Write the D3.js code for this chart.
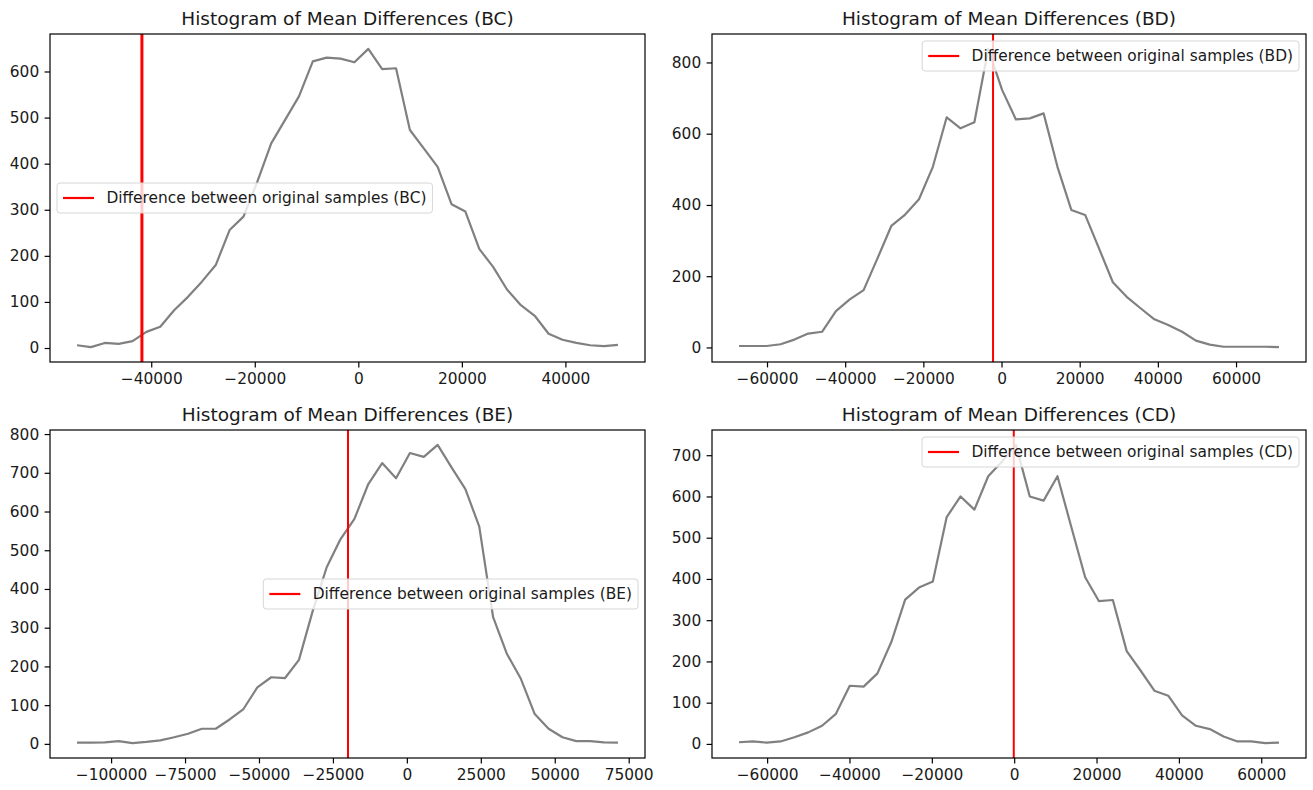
<!DOCTYPE html>
<html>
<head>
<meta charset="utf-8">
<script src="https://cdn.jsdelivr.net/npm/d3@7"></script>
<style>
  body { margin: 0; background: #fff; }
  svg text { font-family: "DejaVu Sans", sans-serif; fill: #1a1a1a; }
</style>
</head>
<body>
<svg id="chart" width="1313" height="790"></svg>
<script>
// Bootstrap distributions of mean differences, 40 bins each.
// Bin range: [first bin position, last bin position]; counts per bin.
const binRangeBC = [-54330, 50150];
const countsBC = [6, 2, 11, 9, 15, 35, 46, 82, 111, 144, 180, 256, 285, 361, 444, 495, 546, 622, 630, 628,
                  620, 649, 605, 607, 473, 433, 393, 312, 296, 215, 176, 127, 93, 70, 31, 18, 11, 6, 4, 7];
const observedBC = -41800;

const binRangeBD = [-67168, 70995];
const countsBD = [4, 4, 4, 9, 22, 39, 44, 102, 135, 161, 250, 341, 373, 416, 507, 646, 615, 632, 838, 723,
                  640, 643, 657, 507, 386, 372, 278, 183, 142, 110, 79, 63, 44, 19, 8, 2, 2, 2, 2, 1];
const observedBD = -2170;

const binRangeBE = [-111513, 71370];
const countsBE = [3, 3, 4, 7, 2, 5, 9, 17, 26, 39, 39, 63, 90, 146, 172, 170, 217, 344, 456, 529,
                  581, 671, 725, 686, 751, 741, 772, 714, 658, 561, 327, 232, 168, 77, 39, 17, 7, 7, 4, 3];
const observedBE = -19900;

const binRangeCD = [-66828, 64310];
const countsCD = [4, 6, 3, 6, 16, 28, 44, 73, 141, 139, 171, 247, 350, 379, 394, 550, 600, 568, 649, 685,
                  725, 600, 590, 649, 526, 404, 346, 349, 225, 178, 129, 117, 69, 44, 36, 18, 6, 6, 2, 3];
const observedCD = -100;

const xTicksBC = [-40000, -20000, 0, 20000, 40000];
const yTicksBC = [0, 100, 200, 300, 400, 500, 600];
const xTicksBD = [-60000, -40000, -20000, 0, 20000, 40000, 60000];
const yTicksBD = [0, 200, 400, 600, 800];
const xTicksBE = [-100000, -75000, -50000, -25000, 0, 25000, 50000, 75000];
const yTicksBE = [0, 100, 200, 300, 400, 500, 600, 700, 800];
const xTicksCD = [-60000, -40000, -20000, 0, 20000, 40000, 60000];
const yTicksCD = [0, 100, 200, 300, 400, 500, 600, 700];

const pairs = ["BC", "BD", "BE", "CD"];
const panelData = {
  BC: { range: binRangeBC, counts: countsBC, observed: observedBC, xTicks: xTicksBC, yTicks: yTicksBC },
  BD: { range: binRangeBD, counts: countsBD, observed: observedBD, xTicks: xTicksBD, yTicks: yTicksBD },
  BE: { range: binRangeBE, counts: countsBE, observed: observedBE, xTicks: xTicksBE, yTicks: yTicksBE },
  CD: { range: binRangeCD, counts: countsCD, observed: observedCD, xTicks: xTicksCD, yTicks: yTicksCD }
};

// Layout of the 2x2 grid: axes boxes [left, top, right, bottom] and legend placement
const layout = {
  BC: { box: [50, 34, 645, 362], legend: "center left", redWidth: 3 },
  BD: { box: [712, 34, 1306, 362], legend: "upper right", redWidth: 2 },
  BE: { box: [50, 430, 645, 758], legend: "center right", redWidth: 2 },
  CD: { box: [712, 430, 1306, 758], legend: "upper right", redWidth: 2 }
};

const svg = d3.select("#chart");
const fmt = d3.format("d");
const TICK_FONT = 15.4, TITLE_FONT = 18.5, LEGEND_FONT = 15.4;

// Autoscale with 5% margins on each side
function padded(lo, hi) {
  const m = (hi - lo) * 0.05;
  return [lo - m, hi + m];
}

pairs.forEach(key => {
  const d = panelData[key];
  const L = layout[key];
  const [x0, y0, x1, y1] = L.box;

  const n = d.counts.length;
  const binScale = d3.scaleLinear().domain([0, n - 1]).range(d.range);
  const points = d.counts.map((c, i) => ({ x: binScale(i), y: c }));

  const x = d3.scaleLinear().domain(padded(d.range[0], d.range[1])).range([x0, x1]);
  const yExt = d3.extent(d.counts);
  const y = d3.scaleLinear().domain(padded(yExt[0], yExt[1])).range([y1, y0]);

  const g = svg.append("g");

  const clipId = "clip-" + key;
  g.append("clipPath").attr("id", clipId)
    .append("rect").attr("x", x0).attr("y", y0).attr("width", x1 - x0).attr("height", y1 - y0);

  const plot = g.append("g").attr("clip-path", `url(#${clipId})`);

  // histogram outline
  plot.append("path")
    .datum(points)
    .attr("fill", "none")
    .attr("stroke", "#808080")
    .attr("stroke-width", 2.2)
    .attr("stroke-linejoin", "round")
    .attr("d", d3.line().x(p => x(p.x)).y(p => y(p.y)));

  // observed difference
  plot.append("line")
    .attr("x1", x(d.observed)).attr("x2", x(d.observed))
    .attr("y1", y0).attr("y2", y1)
    .attr("stroke", "#ff0000")
    .attr("stroke-width", L.redWidth);

  // axes frame
  g.append("rect")
    .attr("x", x0).attr("y", y0).attr("width", x1 - x0).attr("height", y1 - y0)
    .attr("fill", "none").attr("stroke", "#000").attr("stroke-width", 1.2);

  const xAxis = g.append("g").attr("transform", `translate(0,${y1})`)
    .call(d3.axisBottom(x).tickValues(d.xTicks).tickFormat(fmt).tickSize(5.4).tickPadding(6).tickSizeOuter(0));
  const yAxis = g.append("g").attr("transform", `translate(${x0},0)`)
    .call(d3.axisLeft(y).tickValues(d.yTicks).tickFormat(fmt).tickSize(5.4).tickPadding(5.4).tickSizeOuter(0));
  [xAxis, yAxis].forEach(a => {
    a.select(".domain").remove();
    a.attr("font-family", null).attr("font-size", null);
    a.selectAll("line").attr("stroke", "#000").attr("stroke-width", 1.2);
    a.selectAll("text").style("font-size", TICK_FONT + "px").attr("fill", "#1a1a1a");
  });

  // title
  g.append("text")
    .attr("x", (x0 + x1) / 2).attr("y", y0 - 9)
    .attr("text-anchor", "middle")
    .style("font-size", TITLE_FONT + "px")
    .text("Histogram of Mean Differences (" + key + ")");

  // legend
  const pad = 6, handleLen = 31, handleGap = 12.4, boxH = 30, edgePad = 7;
  const leg = g.append("g");
  const legRect = leg.append("rect");
  const legText = leg.append("text")
    .style("font-size", LEGEND_FONT + "px")
    .attr("dy", "0.35em")
    .text("Difference between original samples (" + key + ")");
  const tw = legText.node().getComputedTextLength();
  const boxW = pad + handleLen + handleGap + tw + pad;
  let lx, ly;
  if (L.legend === "upper right") { lx = x1 - edgePad - boxW; ly = y0 + edgePad; }
  else if (L.legend === "center left") { lx = x0 + edgePad; ly = (y0 + y1) / 2 - boxH / 2; }
  else { lx = x1 - edgePad - boxW; ly = (y0 + y1) / 2 - boxH / 2; }
  legRect.attr("x", lx).attr("y", ly).attr("width", boxW).attr("height", boxH)
    .attr("rx", 3).attr("ry", 3)
    .attr("fill", "#fff").attr("fill-opacity", 0.8)
    .attr("stroke", "#d6d6d6").attr("stroke-width", 1);
  leg.append("line")
    .attr("x1", lx + pad).attr("x2", lx + pad + handleLen)
    .attr("y1", ly + boxH / 2).attr("y2", ly + boxH / 2)
    .attr("stroke", "#ff0000").attr("stroke-width", 2.2);
  legText.attr("x", lx + pad + handleLen + handleGap).attr("y", ly + boxH / 2);
  legText.raise();
});
</script>
</body>
</html>
